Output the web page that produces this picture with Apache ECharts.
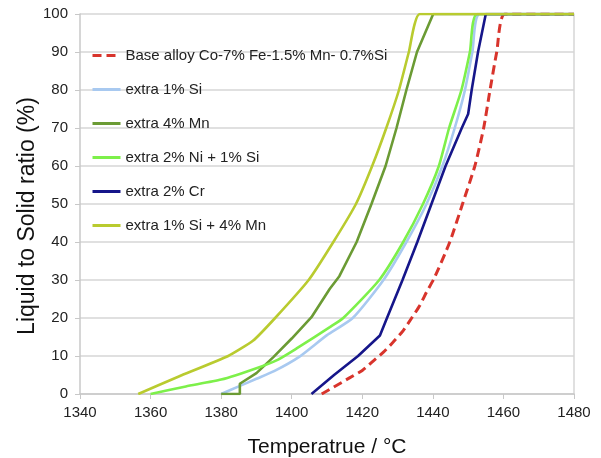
<!DOCTYPE html>
<html><head><meta charset="utf-8">
<script src="https://cdn.jsdelivr.net/npm/echarts/dist/echarts.min.js"></script>
<style>html,body{margin:0;padding:0;background:#fff}#c{width:601px;height:458px}</style>
</head><body><div id="c"></div>
<script>
// Temperature (°C) / liquid-to-solid ratio (%) pairs
const seriesNames = [
  'Base alloy Co-7% Fe-1.5% Mn- 0.7%Si',
  'extra 1% Si',
  'extra 4% Mn',
  'extra 2% Ni + 1% Si',
  'extra 2% Cr',
  'extra 1% Si + 4% Mn'
];
const baseAlloy = [[1408.5,0],[1416.5,4.3],[1420,6.2],[1423,8.6],[1426,11],[1428.7,13.6],[1431.6,16.7],[1434,20],[1436.3,23.3],[1438.2,26.8],[1440.4,30.5],[1444.8,40],[1448.4,50],[1451.9,60],[1454.4,70],[1456.2,80],[1458.1,90],[1460.4,100],[1480,100]];
const extraSi = [[1380,0],[1385,2],[1390,4],[1395,6],[1402,9.7],[1410,15.5],[1417.3,20],[1426,30],[1432.5,40],[1438.2,50],[1442.7,60],[1446.2,70],[1449.1,80],[1451.2,90],[1453.3,100],[1480,100]];
const extraMn = [[1380,0],[1385.3,0],[1385.3,2.7],[1390,5.5],[1394.8,9.7],[1400,14.6],[1405.6,20.2],[1410.8,27.7],[1413.5,31],[1418.4,40],[1422.6,50],[1426.6,60],[1429.7,70],[1432.5,80],[1435.5,90],[1440.1,100],[1480,100]];
const extraNiSi = [[1360,0],[1370,2],[1380,3.8],[1390,6.8],[1396,9],[1401.4,12],[1410.8,17.6],[1414.6,20],[1424.8,30],[1431.6,40],[1437.2,50],[1441.7,60],[1444.6,70],[1448.1,80],[1450.5,90],[1452.6,100],[1480,100]];
const extraCr = [[1405.6,0],[1412,5],[1418.8,10],[1425,15.4],[1427,20],[1431.4,30],[1435.6,40],[1439.6,50],[1443.6,60],[1448.2,70],[1450,73.7],[1451,80],[1452.8,90],[1455,100],[1480,100]];
const extraSiMn = [[1356.5,0],[1368,4.6],[1382,10],[1389,14],[1395.3,20],[1404.8,30],[1411.8,40],[1418.2,50],[1422.8,60],[1426.8,70],[1430.4,80],[1433.2,90],[1436.3,100],[1480,100]];
const seriesData = [baseAlloy, extraSi, extraMn, extraNiSi, extraCr, extraSiMn];
const colors = ['#d8342c', '#a8c9f0', '#6b9b34', '#7df04a', '#16168a', '#b9cb2f'];
const smoothness = [0.2, 0.2, 0, 0.2, 0, 0.15];

const font = 'Liberation Sans, Arial, sans-serif';
const chart = echarts.init(document.getElementById('c'));
chart.setOption({
  backgroundColor: '#fff',
  animation: false,
  grid: { left: 80, right: 27, top: 14, bottom: 64, containLabel: false, outerBoundsMode: 'none' },
  legend: {
    orient: 'vertical', left: 91, top: 48, padding: 0,
    itemWidth: 28, itemHeight: 14, itemGap: 19,
    itemStyle: { opacity: 0 },
    lineStyle: { width: 3 },
    textStyle: { fontFamily: font, fontSize: 15, color: '#222' },
    data: seriesNames
  },
  xAxis: {
    type: 'value', min: 1340, max: 1480, interval: 20,
    name: 'Temperatrue / °C', nameLocation: 'middle', nameGap: 43, nameMoveOverlap: false,
    nameTextStyle: { fontFamily: font, fontSize: 21, color: '#111' },
    axisLine: { show: true, lineStyle: { color: '#c8c8c8', width: 1.5 } },
    axisTick: { show: true, length: 5, lineStyle: { color: '#c8c8c8' } },
    axisLabel: { fontFamily: font, fontSize: 15, color: '#222', margin: 11, formatter: v => String(v) },
    splitLine: { show: false }
  },
  yAxis: [{
    type: 'value', min: 0, max: 100, interval: 10,
    name: 'Liquid to Solid ratio (%)', nameLocation: 'middle', nameGap: 41, nameMoveOverlap: false,
    nameTextStyle: { fontFamily: font, fontSize: 23, color: '#111', padding: [0, 24, 0, 0] },
    axisLine: { show: true, lineStyle: { color: '#c8c8c8', width: 1.5 } },
    axisTick: { show: true, length: 5, lineStyle: { color: '#c8c8c8' } },
    axisLabel: { fontFamily: font, fontSize: 15, color: '#222', margin: 12, formatter: v => String(v) },
    splitLine: { show: true, lineStyle: { color: '#d6d6d6', width: 1.5 } }
  }, {
    type: 'value', min: 0, max: 100, interval: 10, position: 'right',
    axisLine: { show: true, lineStyle: { color: '#d6d6d6', width: 1.5 } },
    axisTick: { show: false }, axisLabel: { show: false }, splitLine: { show: false }
  }],
  series: seriesNames.map((n, i) => ({
    name: n, type: 'line', data: seriesData[i], symbol: 'none',
    smooth: smoothness[i],
    color: colors[i],
    lineStyle: { width: i === 0 ? 3 : 2.6, color: colors[i], type: i === 0 ? [9, 5] : 'solid' }
  }))
});
</script></body></html>
